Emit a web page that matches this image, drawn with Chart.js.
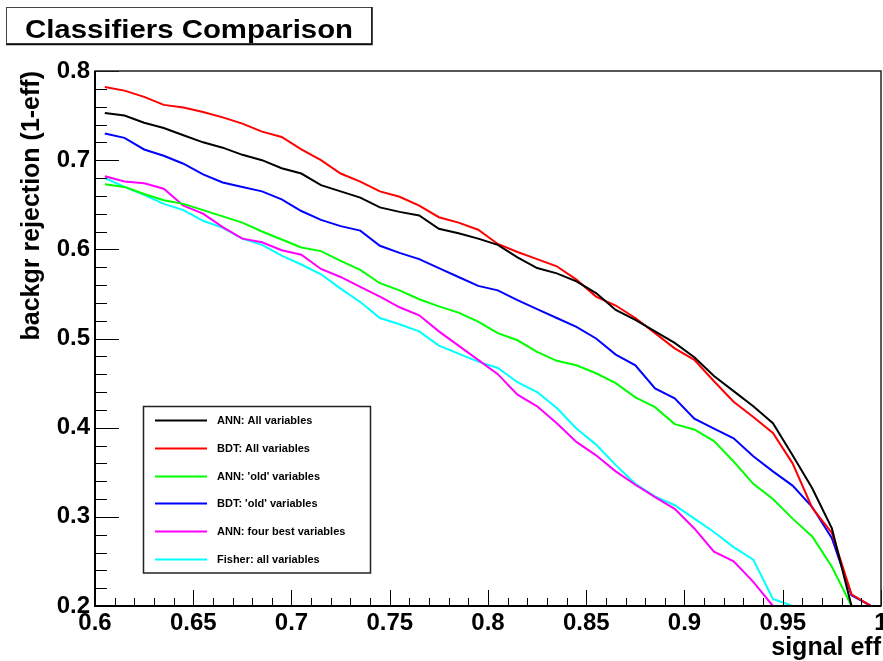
<!DOCTYPE html>
<html>
<head>
<meta charset="utf-8">
<script src="https://cdn.jsdelivr.net/npm/chart.js@4.4.1/dist/chart.umd.min.js"></script>
<style>
  html, body { margin: 0; padding: 0; background: #fff; }
  #wrap { width: 883px; height: 661px; }
</style>
</head>
<body>
<div id="wrap"><canvas id="myChart" width="883" height="661"></canvas></div>
<script>
// signal efficiency bin centres
var signalEff = [0.605, 0.615, 0.625, 0.635, 0.645, 0.655, 0.665, 0.675, 0.685, 0.695,
                 0.705, 0.715, 0.725, 0.735, 0.745, 0.755, 0.765, 0.775, 0.785, 0.795,
                 0.805, 0.815, 0.825, 0.835, 0.845, 0.855, 0.865, 0.875, 0.885, 0.895,
                 0.905, 0.915, 0.925, 0.935, 0.945, 0.955, 0.965, 0.975, 0.985, 0.995];

// background rejection per classifier
var annAll = [0.753, 0.750, 0.742, 0.736, 0.728, 0.720, 0.714, 0.706, 0.700, 0.691,
              0.685, 0.672, 0.665, 0.658, 0.647, 0.642, 0.638, 0.623, 0.618, 0.612,
              0.605, 0.591, 0.579, 0.573, 0.564, 0.551, 0.532, 0.521, 0.508, 0.495,
              0.479, 0.458, 0.441, 0.424, 0.405, 0.369, 0.332, 0.287, 0.200, null];
var bdtAll = [0.782, 0.778, 0.771, 0.762, 0.759, 0.754, 0.748, 0.741, 0.732, 0.726,
              0.712, 0.700, 0.685, 0.676, 0.665, 0.659, 0.649, 0.636, 0.630, 0.622,
              0.606, 0.597, 0.589, 0.581, 0.566, 0.547, 0.537, 0.523, 0.506, 0.489,
              0.476, 0.452, 0.429, 0.412, 0.394, 0.360, 0.310, 0.282, 0.213, 0.200];
var annOld = [0.673, 0.670, 0.662, 0.655, 0.651, 0.644, 0.637, 0.630, 0.620, 0.611,
              0.602, 0.598, 0.587, 0.577, 0.562, 0.554, 0.544, 0.536, 0.529, 0.519,
              0.506, 0.498, 0.485, 0.475, 0.470, 0.461, 0.450, 0.434, 0.423, 0.404,
              0.398, 0.385, 0.362, 0.337, 0.320, 0.298, 0.278, 0.244, 0.200, null];
var bdtOld = [0.730, 0.725, 0.712, 0.705, 0.696, 0.684, 0.675, 0.670, 0.665, 0.656,
              0.643, 0.633, 0.626, 0.621, 0.604, 0.596, 0.589, 0.579, 0.569, 0.559,
              0.554, 0.543, 0.533, 0.523, 0.513, 0.500, 0.482, 0.470, 0.444, 0.433,
              0.410, 0.399, 0.388, 0.368, 0.351, 0.335, 0.311, 0.276, 0.212, 0.200];
var annBest4 = [0.682, 0.676, 0.674, 0.668, 0.649, 0.640, 0.625, 0.612, 0.608, 0.599,
                0.594, 0.578, 0.569, 0.558, 0.547, 0.535, 0.526, 0.508, 0.492, 0.476,
                0.460, 0.437, 0.424, 0.405, 0.384, 0.369, 0.351, 0.336, 0.322, 0.309,
                0.287, 0.261, 0.250, 0.227, 0.200, null, null, null, null, null];
var fisherAll = [0.680, 0.670, 0.661, 0.651, 0.644, 0.632, 0.624, 0.612, 0.605, 0.593,
                 0.583, 0.572, 0.556, 0.541, 0.523, 0.516, 0.508, 0.492, 0.483, 0.474,
                 0.467, 0.451, 0.440, 0.422, 0.399, 0.381, 0.358, 0.337, 0.323, 0.313,
                 0.298, 0.283, 0.266, 0.252, 0.208, 0.200, null, null, null, null];

var seriesNames = ['ANN: All variables', 'BDT: All variables', "ANN: 'old' variables",
                   "BDT: 'old' variables", 'ANN: four best variables', 'Fisher: all variables'];

var xTicks = { min: 0.6, max: 1.0, major: 0.05, minor: 0.01 };
var yTicks = { min: 0.2, max: 0.8, major: 0.1, minor: 0.02 };

function points(vals) {
    return signalEff.map(function (x, i) { return { x: x, y: vals[i] }; });
}

function line(label, vals, color) {
    return {
        label: label,
        data: points(vals),
        borderColor: color,
        backgroundColor: color,
        borderWidth: 2,
        pointRadius: 0,
        tension: 0,
        spanGaps: false
    };
}

var FONT = '"Liberation Sans", Arial, Helvetica, sans-serif';

// ROOT-like frame, inward ticks, title pave and legend
var rootStyle = {
    id: 'rootStyle',
    afterDatasetsDraw: function (chart) {
        var ctx = chart.ctx, a = chart.chartArea;
        var xs = chart.scales.x, ys = chart.scales.y;
        ctx.save();
        ctx.strokeStyle = '#000';
        ctx.lineWidth = 1;
        // x ticks
        var n = Math.round((xTicks.max - xTicks.min) / xTicks.minor);
        for (var i = 0; i <= n; i++) {
            var px = Math.round(xs.getPixelForValue(xTicks.min + i * xTicks.minor)) + 0.5;
            var len = (i % 5 === 0) ? 16 : 8;
            ctx.beginPath();
            ctx.moveTo(px, a.bottom);
            ctx.lineTo(px, a.bottom - len);
            ctx.stroke();
        }
        // y ticks
        n = Math.round((yTicks.max - yTicks.min) / yTicks.minor);
        for (i = 0; i <= n; i++) {
            var py = Math.round(ys.getPixelForValue(yTicks.min + i * yTicks.minor)) + 0.5;
            var ylen = (i % 5 === 0) ? 24 : 12;
            ctx.beginPath();
            ctx.moveTo(a.left, py);
            ctx.lineTo(a.left + ylen, py);
            ctx.stroke();
        }
        // frame
        ctx.lineWidth = 1.5;
        ctx.strokeStyle = '#222';
        ctx.strokeRect(a.left, a.top, a.right - a.left, a.bottom - a.top);
        ctx.lineWidth = 2;
        ctx.strokeStyle = '#000';
        ctx.beginPath();
        ctx.moveTo(a.left, a.top);
        ctx.lineTo(a.left, a.bottom);
        ctx.lineTo(a.right, a.bottom);
        ctx.stroke();
        ctx.restore();
    },
    afterDraw: function (chart) {
        var ctx = chart.ctx;
        ctx.save();
        // title pave
        ctx.fillStyle = '#fff';
        ctx.fillRect(6, 7, 366, 37);
        ctx.strokeStyle = '#444';
        ctx.lineWidth = 1;
        ctx.strokeRect(6.5, 7.5, 365, 36);
        ctx.strokeStyle = '#111';
        ctx.lineWidth = 1.5;
        ctx.beginPath();
        ctx.moveTo(372, 7);
        ctx.lineTo(372, 44.5);
        ctx.lineTo(6, 44.5);
        ctx.stroke();
        var title = 'Classifiers Comparison';
        ctx.font = 'bold 25px ' + FONT;
        ctx.fillStyle = '#000';
        ctx.textBaseline = 'alphabetic';
        var w = ctx.measureText(title).width;
        ctx.translate(25, 37.5);
        ctx.scale(328 / w, 1);
        ctx.fillText(title, 0, 0);
        ctx.restore();

        // legend box
        ctx.save();
        ctx.fillStyle = '#fff';
        ctx.fillRect(143, 406, 227, 167);
        ctx.strokeStyle = '#222';
        ctx.lineWidth = 1.5;
        ctx.strokeRect(143.5, 406.5, 227, 166.5);
        ctx.font = 'bold 11px ' + FONT;
        ctx.textBaseline = 'middle';
        ctx.textAlign = 'left';
        var rowY = 420, rowStep = 27.8;
        chart.data.datasets.forEach(function (ds, k) {
            var y = Math.round(rowY + k * rowStep) + 0.5;
            ctx.strokeStyle = ds.borderColor;
            ctx.lineWidth = 2;
            ctx.beginPath();
            ctx.moveTo(155, y);
            ctx.lineTo(207, y);
            ctx.stroke();
            ctx.fillStyle = '#000';
            ctx.fillText(ds.label, 217, y);
        });
        ctx.restore();
    }
};

var ctx = document.getElementById('myChart').getContext('2d');
var myChart = new Chart(ctx, {
    type: 'line',
    data: {
        datasets: [
            line(seriesNames[0], annAll, '#000000'),
            line(seriesNames[1], bdtAll, '#ff0000'),
            line(seriesNames[2], annOld, '#00ff00'),
            line(seriesNames[3], bdtOld, '#0000ff'),
            line(seriesNames[4], annBest4, '#ff00ff'),
            line(seriesNames[5], fisherAll, '#00ffff')
        ]
    },
    options: {
        responsive: false,
        animation: false,
        devicePixelRatio: 1,
        layout: { padding: { top: 71, right: 2, left: 0, bottom: 0 } },
        plugins: {
            legend: { display: false },
            title: { display: false },
            tooltip: { enabled: false }
        },
        scales: {
            x: {
                type: 'linear',
                min: xTicks.min,
                max: xTicks.max,
                grid: { display: false, drawTicks: false },
                border: { display: false },
                ticks: {
                    stepSize: xTicks.major,
                    padding: 3,
                    color: '#000',
                    maxRotation: 0,
                    autoSkip: false,
                    font: { family: FONT, size: 24, weight: 'bold' },
                    callback: function (v) { return String(Number(v.toFixed(2))); }
                },
                title: {
                    display: true,
                    text: 'signal eff',
                    align: 'end',
                    color: '#000',
                    padding: 0,
                    font: { family: FONT, size: 25, weight: 'bold', lineHeight: 1 }
                },
                afterFit: function (s) {
                    s.height = 55;
                    s.paddingLeft = 0;
                    s.paddingRight = 0;
                }
            },
            y: {
                min: yTicks.min,
                max: yTicks.max,
                grid: { display: false, drawTicks: false },
                border: { display: false },
                ticks: {
                    stepSize: yTicks.major,
                    padding: 5,
                    color: '#000',
                    font: { family: FONT, size: 24, weight: 'bold' },
                    callback: function (v) { return String(Number(v.toFixed(2))); }
                },
                title: {
                    display: true,
                    text: 'backgr rejection (1-eff)',
                    align: 'end',
                    color: '#000',
                    padding: { top: 20, bottom: 0 },
                    font: { family: FONT, size: 25, weight: 'bold', lineHeight: 1 }
                },
                afterFit: function (s) {
                    s.width = 95;
                    s.paddingTop = 0;
                    s.paddingBottom = 0;
                }
            }
        }
    },
    plugins: [rootStyle]
});
</script>
</body>
</html>
